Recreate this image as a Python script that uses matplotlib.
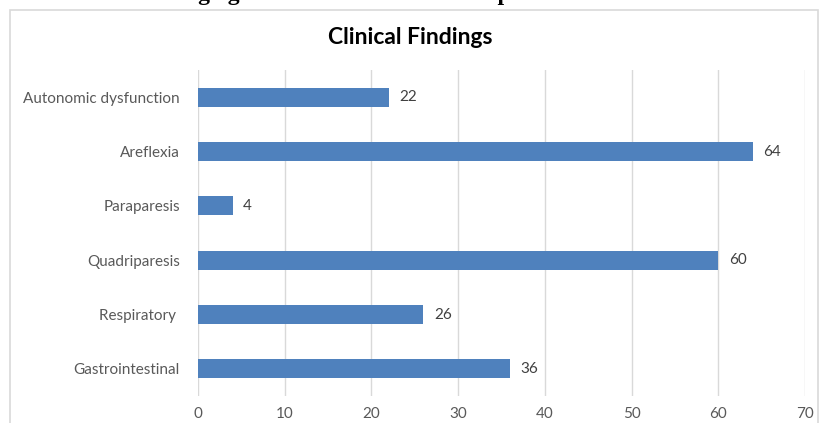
import matplotlib.pyplot as plt
from matplotlib.patches import Rectangle

# chart data, top to bottom as drawn
findings = ["Autonomic dysfunction", "Areflexia", "Paraparesis",
            "Quadriparesis", "Respiratory ", "Gastrointestinal"]
counts = [22, 64, 4, 60, 26, 36]
x_ticks = [0, 10, 20, 30, 40, 50, 60, 70]

plt.rcParams['font.family'] = ['Lato', 'DejaVu Sans']

fig = plt.figure(figsize=(8.2, 4.23), dpi=100)

# chart frame (cut off at the bottom in the source)
fig.patches.append(Rectangle((10 / 820, -0.05), 808 / 820, 1.05 - 10 / 423,
                             transform=fig.transFigure, fill=False,
                             edgecolor='#d9d9d9', linewidth=1.2))

# caption text cropped at the top of the source image
fig.text(0.5, 1.012, "showing age distribution of the GBS patients considered",
         ha='center', va='center', fontsize=17, fontweight='bold',
         family=['Liberation Serif', 'DejaVu Serif'], color='black')

ax = fig.add_axes([198 / 820, 27 / 423, 607 / 820, 326 / 423])

y_pos = list(range(len(findings)))[::-1]
bars = ax.barh(y_pos, counts, height=0.35, color='#4f81bd')

for bar, val in zip(bars, counts):
    ax.text(bar.get_width() + 1.2, bar.get_y() + bar.get_height() / 2,
            str(val), va='center', ha='left', fontsize=11, color='#404040')

ax.set_xlim(0, 70)
ax.set_ylim(-0.5, 5.5)
ax.set_xticks(x_ticks)
ax.set_yticks(y_pos)
ax.set_yticklabels(findings)
ax.tick_params(axis='both', length=0, labelsize=11, labelcolor='#595959')
ax.tick_params(axis='y', pad=13)
ax.tick_params(axis='x', pad=8)
ax.grid(axis='x', color='#d9d9d9', linewidth=1)
ax.set_axisbelow(True)
for s in ax.spines.values():
    s.set_visible(False)

fig.text(0.5, 1 - 38 / 423, "Clinical Findings", ha='center', va='center',
         fontsize=16.5, fontweight='bold', color='#000000')

fig.savefig("out.png", dpi=100)
